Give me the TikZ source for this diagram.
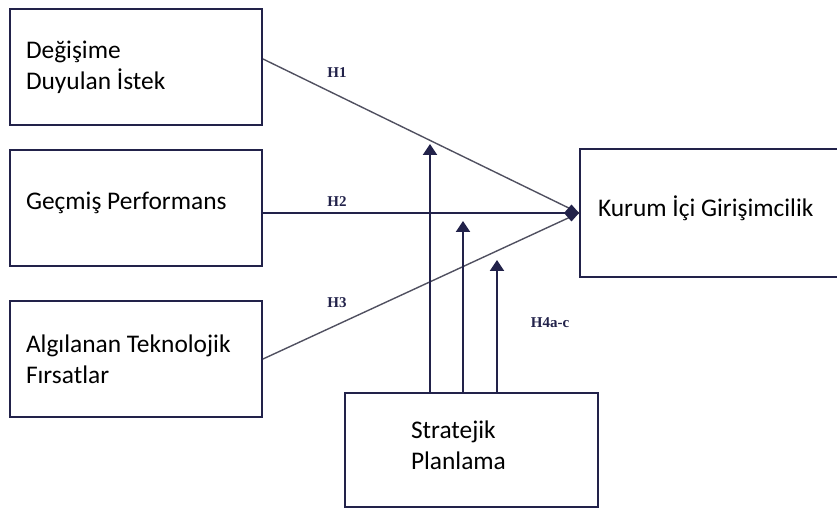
\documentclass[tikz,border=0pt]{standalone}
\usepackage{fontspec}
\setmainfont{Carlito}
\newfontfamily\hypfont{Liberation Serif}
\usepackage{tikz}
\usetikzlibrary{arrows.meta}
\usetikzlibrary{positioning}
\definecolor{navy}{RGB}{34,34,74}
\definecolor{linegray}{RGB}{80,80,96}
\tikzset{lift/.style = {execute at end node = {\par\vskip #1}}}
\tikzstyle{block} = [draw = navy, line width = 2pt, rectangle, align = flush left, inner xsep = 16pt, text width = 220pt, minimum height = 116pt, font = \fontsize{25.4pt}{31pt}\selectfont, lift = 10pt]
\tikzstyle{hyp} = [font = \hypfont\bfseries\fontsize{15pt}{17pt}\selectfont, text = navy]
\tikzstyle{arrow} = [navy, line width = 2.3pt, -{Triangle[length = 11pt, width = 14pt]}]
\tikzstyle{link} = [linegray, line width = 1.4pt]

\begin{document}
\begin{tikzpicture}[x = 1pt, y = 1pt]
		\useasboundingbox (0,0) rectangle (837,508);
		
			% independent variables
			\node[block, anchor = north west] (desire) at (9,500) {Değişime\\Duyulan İstek};
			\coordinate[above = 8pt of desire.east] (rdesire);
			\node[block, below = 23pt of desire, lift = 13pt] (perf) {Geçmiş Performans};
			\node[block, below = 33pt of perf] (tech) {Algılanan Teknolojik\\Fırsatlar};
			
			% dependent variable
			\node[block, anchor = north west, inner xsep = 18pt, text width = 226pt, minimum height = 128pt, lift = 6pt] (kig) at (579,360) {Kurum İçi Girişimcilik};
			\coordinate (rperf) at (perf.east |- kig.west);
			
			% moderator
			\node[block, anchor = north west, inner xsep = 66pt, text width = 121pt, minimum height = 114pt, lift = 16pt] (strat) at (344,116) {Stratejik\\Planlama};
			\coordinate[right = 86pt of strat.north west] (bstrat1);
			\coordinate[right = 119pt of strat.north west] (bstrat2);
			\coordinate[right = 153pt of strat.north west] (bstrat3);
			\coordinate[above = 248pt of bstrat1] (tstrat1);
			\coordinate[above = 171pt of bstrat2] (tstrat2);
			\coordinate[above = 132pt of bstrat3] (tstrat3);
			
			% hypotheses
			\draw[link] (rdesire) -- (kig.west);
			\draw[link] (tech.east) -- (kig.west);
			\draw[navy, line width = 2pt, -{Diamond[length = 15pt, width = 17pt]}] (rperf) -- (kig.west);
			\draw[arrow] (bstrat1) -- (tstrat1);
			\draw[arrow] (bstrat2) -- (tstrat2);
			\draw[arrow] (bstrat3) -- (tstrat3);
			
			% labels
			\node[hyp] (h1) at (337,435) {H1};
			\node[hyp] (h2) at (337,306) {H2};
			\node[hyp] (h3) at (337,205) {H3};
			\node[hyp] (h4) at (550,185) {H4a-c};
		
		\end{tikzpicture}
\end{document}
